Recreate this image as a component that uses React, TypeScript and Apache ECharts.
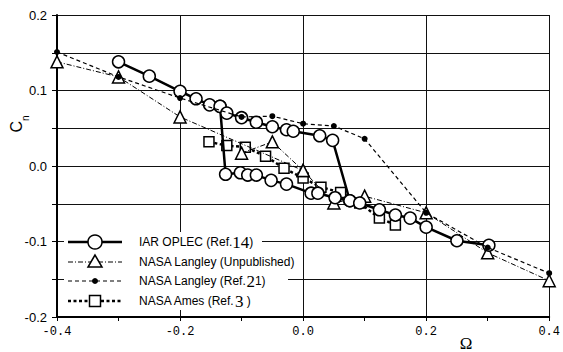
import React, { useEffect, useRef } from "react";
import * as echarts from "echarts";

// IAR OPLEC (Ref.14): upper branch, dropping to the lower branch near Ω≈0.07
const IAR_UPPER: [number, number][] = [
  [-0.3, 0.138], [-0.25, 0.119], [-0.2, 0.099], [-0.174, 0.089], [-0.152, 0.081],
  [-0.135, 0.079], [-0.124, 0.07], [-0.1, 0.064], [-0.076, 0.058], [-0.05, 0.052],
  [-0.027, 0.048], [-0.016, 0.046], [0.027, 0.04], [0.048, 0.034], [0.076, -0.046],
  [0.092, -0.049], [0.124, -0.058], [0.15, -0.065], [0.174, -0.069], [0.2, -0.081],
  [0.25, -0.099], [0.302, -0.105],
];
// IAR OPLEC lower branch (hysteresis), dropping near Ω≈-0.13
const IAR_LOWER: [number, number][] = [
  [-0.135, 0.079], [-0.126, -0.011], [-0.102, -0.009], [-0.09, -0.012], [-0.076, -0.012],
  [-0.052, -0.019], [-0.027, -0.024], [0.013, -0.036], [0.024, -0.036], [0.052, -0.042],
  [0.076, -0.046],
];
// NASA Langley (Unpublished)
const UNPUB_MAIN: [number, number][] = [
  [-0.4, 0.138], [-0.3, 0.118], [-0.2, 0.065], [0.0, -0.006], [0.05, -0.049],
  [0.1, -0.04], [0.2, -0.062], [0.3, -0.115], [0.4, -0.152],
];
const UNPUB_LOOP: [number, number][] = [
  [-0.1, 0.017], [-0.05, 0.032], [0.0, -0.006],
];
// NASA Langley (Ref.21)
const LANGLEY21: [number, number][] = [
  [-0.4, 0.151], [-0.3, 0.118], [-0.2, 0.09], [-0.1, 0.065], [-0.05, 0.066],
  [0.0, 0.056], [0.05, 0.053], [0.1, 0.036], [0.2, -0.062], [0.3, -0.108], [0.4, -0.142],
];
// NASA Ames (Ref.3)
const AMES: [number, number][] = [
  [-0.153, 0.032], [-0.124, 0.027], [-0.094, 0.025], [-0.061, 0.013], [-0.031, -0.003],
  [0.0, -0.016], [0.029, -0.028], [0.061, -0.035], [0.092, -0.049], [0.124, -0.069],
  [0.15, -0.078],
];

const SERIES_NAMES = [
  "IAR OPLEC (Ref.14)",
  "NASA Langley (Unpublished)",
  "NASA Langley (Ref.21)",
  "NASA Ames (Ref.3 )",
];
const LEGEND_RICH_TEXT = [
  "{a|IAR OPLEC (Ref.}{b|14}{a|)}",
  "{a|NASA Langley (Unpublished)}",
  "{a|NASA Langley (Ref.}{b|2}{a|1)}",
  "{a|NASA Ames (Ref.}{b|3}{a| )}",
];

const X_MIN = -0.4, X_MAX = 0.4, X_STEP = 0.2;
const Y_MIN = -0.2, Y_MAX = 0.2, Y_STEP = 0.1;

if (typeof document !== "undefined") {
  document.body.style.margin = "0";
}

const SANS = "Liberation Sans, Arial, sans-serif";
const SERIF = "Liberation Serif, DejaVu Serif, serif";

export default function App() {
  const ref = useRef<HTMLDivElement>(null);
  useEffect(() => {
    if (!ref.current) return;
    const chart = echarts.init(ref.current, undefined, { renderer: "svg" });

    const circleStyle = { color: "#fff", borderColor: "#000", borderWidth: 1.5 };
    const lines = {
      iar: { color: "#000", width: 2.5, type: "solid" as const },
      unpub: { color: "#000", width: 1, type: [5, 2, 1, 2] },
      l21: { color: "#000", width: 1.2, type: [4, 3] },
      ames: { color: "#000", width: 2.5, type: [3, 2.5] },
    };

    // legend rows drawn as graphics
    const rowsY = [242, 262, 281, 301];
    const lx0 = 68, lx1 = 122, lcx = 95, tx = 139;
    const legendGraphics: any[] = [
      { type: "rect", shape: { x: 64, y: 232, width: 198, height: 20 }, style: { fill: "#fff" }, z: 10 },
      { type: "rect", shape: { x: 64, y: 252, width: 224, height: 58 }, style: { fill: "#fff" }, z: 10 },
    ];
    const lineDash = [null, [5, 2, 1, 2], [4, 3], [3, 2.5]];
    const lineW = [2.5, 1, 1.2, 2.5];
    rowsY.forEach((y, i) => {
      legendGraphics.push({
        type: "line",
        shape: { x1: lx0, y1: y, x2: lx1, y2: y },
        style: { stroke: "#000", lineWidth: lineW[i], lineDash: lineDash[i] || undefined },
        z: 11,
      });
      let sym: any;
      if (i === 0) sym = { type: "circle", shape: { cx: lcx, cy: y, r: 7 }, style: { fill: "#fff", stroke: "#000", lineWidth: 1.5 } };
      else if (i === 1) sym = { type: "polygon", shape: { points: [[lcx, y - 7], [lcx - 7, y + 5], [lcx + 7, y + 5]] }, style: { fill: "#fff", stroke: "#000", lineWidth: 1.5 } };
      else if (i === 2) sym = { type: "circle", shape: { cx: lcx, cy: y, r: 3 }, style: { fill: "#000" } };
      else sym = { type: "rect", shape: { x: lcx - 5.5, y: y - 5.5, width: 11, height: 11 }, style: { fill: "#fff", stroke: "#000", lineWidth: 1.5 } };
      sym.z = 12;
      legendGraphics.push(sym);
      legendGraphics.push({
        type: "text",
        x: tx,
        y: y,
        z: 12,
        style: {
          text: LEGEND_RICH_TEXT[i],
          verticalAlign: "middle",
          align: "left",
          fill: "#000",
          rich: {
            a: { fontFamily: SANS, fontSize: 12, fill: "#000", lineHeight: 18 },
            b: { fontFamily: SERIF, fontSize: 17, fill: "#000", lineHeight: 18 },
          },
        },
      });
    });

    const option: any = {
      animation: false,
      backgroundColor: "#fff",
      grid: { left: 57, right: 10, top: 15, bottom: 35 },
      xAxis: {
        type: "value",
        min: X_MIN,
        max: X_MAX,
        interval: X_STEP,
        axisLine: { show: true, onZero: false, lineStyle: { color: "#000", width: 2 } },
        axisTick: { show: true, inside: false, length: 4, lineStyle: { color: "#000" } },
        minorTick: { show: true, splitNumber: 2, length: 4, lineStyle: { color: "#000" } },
        splitLine: { show: true, lineStyle: { color: "#111", width: 1 } },
        axisLabel: {
          color: "#000",
          fontFamily: "Liberation Mono, DejaVu Sans Mono, monospace",
          fontSize: 12,
          margin: 9,
          formatter: (v: number) => v.toFixed(1),
        },
      },
      yAxis: {
        type: "value",
        min: Y_MIN,
        max: Y_MAX,
        interval: Y_STEP,
        axisLine: { show: true, onZero: false, lineStyle: { color: "#000", width: 2 } },
        axisTick: { show: true, inside: false, length: 5, lineStyle: { color: "#000" } },
        minorTick: { show: true, splitNumber: 2, length: 5, lineStyle: { color: "#000" } },
        splitLine: { show: true, lineStyle: { color: "#111", width: 1 } },
        minorSplitLine: { show: true, lineStyle: { color: "#111", width: 1 } },
        axisLabel: {
          color: "#000",
          fontFamily: SANS,
          fontSize: 13,
          margin: 10,
          formatter: (v: number) => v.toFixed(1),
        },
      },
      series: [
        {
          name: SERIES_NAMES[3], type: "line", data: AMES, symbol: "rect", symbolSize: 10,
          itemStyle: circleStyle, lineStyle: lines.ames, z: 2,
        },
        {
          name: SERIES_NAMES[1], type: "line", data: UNPUB_MAIN, symbol: "triangle", symbolSize: 12,
          itemStyle: circleStyle, lineStyle: lines.unpub, z: 3,
        },
        {
          name: SERIES_NAMES[1], type: "line", data: UNPUB_LOOP, symbol: "triangle", symbolSize: 12,
          itemStyle: circleStyle, lineStyle: lines.unpub, z: 3,
        },
        {
          name: SERIES_NAMES[0], type: "line", data: IAR_LOWER, symbol: "circle", symbolSize: 12,
          itemStyle: circleStyle, lineStyle: lines.iar, z: 4,
        },
        {
          name: SERIES_NAMES[0], type: "line", data: IAR_UPPER, symbol: "circle", symbolSize: 12,
          itemStyle: circleStyle, lineStyle: lines.iar, z: 4,
        },
        {
          name: SERIES_NAMES[2], type: "line", data: LANGLEY21, symbol: "circle", symbolSize: 6,
          itemStyle: { color: "#000" }, lineStyle: lines.l21, z: 5,
        },
      ],
      graphic: [
        ...legendGraphics,
        {
          type: "text",
          x: 16,
          y: 124,
          rotation: Math.PI / 2,
          style: {
            text: "{c|C}{n|n}",
            align: "center",
            verticalAlign: "middle",
            fill: "#000",
            rich: {
              c: { fontFamily: SANS, fontSize: 16, fill: "#000", lineHeight: 20, verticalAlign: "middle" },
              n: { fontFamily: SANS, fontSize: 10, fill: "#000", lineHeight: 20, verticalAlign: "bottom", padding: [0, 0, -4, 0] },
            },
          },
        },
        {
          type: "text",
          x: 466,
          y: 343,
          style: {
            text: "Ω",
            align: "center",
            verticalAlign: "middle",
            fontFamily: SERIF,
            fontSize: 17,
            fill: "#000",
          },
        },
      ],
    };
    chart.setOption(option);
    return () => chart.dispose();
  }, []);
  return <div ref={ref} style={{ width: 563, height: 352 }} />;
}
